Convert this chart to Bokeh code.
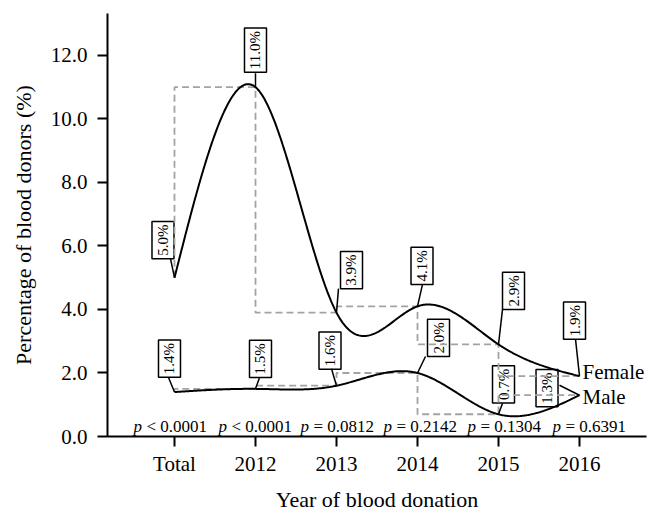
import numpy as np
from bokeh.plotting import figure
from bokeh.models import FixedTicker, Range1d, NumeralTickFormatter
from bokeh.core.properties import value
from bokeh.embed import file_html
from bokeh.resources import INLINE

# ---------------- data ----------------
categories = ["Total", "2012", "2013", "2014", "2015", "2016"]
female = [5.0, 11.0, 3.9, 4.1, 2.9, 1.9]
male = [1.4, 1.5, 1.6, 2.0, 0.7, 1.3]
p_values = ["< 0.0001", "< 0.0001", "= 0.0812", "= 0.2142", "= 0.1304", "= 0.6391"]
y_ticks = [0, 2, 4, 6, 8, 10, 12]
series_names = ["Female", "Male"]

# ---------------- layout / style ----------------
FONT = "Liberation Serif"
FW, FH = 539, 423
X0, X1 = -0.827, 5.827
Y0, Y1 = 0.0, 13.32
SX = FW / (X1 - X0)
SY = FH / (Y1 - Y0)

def px_x(d):
    return d / SX

def px_y(d):
    return -d / SY

# label box centre offsets (px, screen) from data point; leader end offsets
f_box_off = [(-11.5, -37.5), (0, -37), (15, -42.5), (4.5, -40.5), (15, -53.5), (-5, -55.5)]
m_box_off = [(-5, -33.5), (5, -30), (-6.5, -35), (21, -35), (5, -30), (-32.5, -7)]
f_lead_off = [(-4, -19), (0, -14), (2, -24), (5, -22), (4, -35), (-4, -37)]
m_lead_off = [(-6, -14.5), (4, -11), (-5, -17), (8, -16.5), (4, -11), (-20, -10)]
p_left_off = [-41, -37, -36, -34, -31, -27]


def natural_spline(y, n=80):
    y = np.asarray(y, float)
    k = len(y)
    A = np.zeros((k, k))
    b = np.zeros(k)
    A[0, 0] = A[-1, -1] = 1
    for i in range(1, k - 1):
        A[i, i - 1] = 1
        A[i, i] = 4
        A[i, i + 1] = 1
        b[i] = 6 * (y[i + 1] - 2 * y[i] + y[i - 1])
    M = np.linalg.solve(A, b)
    xs, ys = [], []
    for i in range(k - 1):
        t = np.linspace(0, 1, n, endpoint=(i == k - 2))
        s = 1 - t
        ys.extend(y[i] * s + y[i + 1] * t + (M[i] * (s ** 3 - s) + M[i + 1] * (t ** 3 - t)) / 6)
        xs.extend(i + t)
    return xs, ys


def step_path(y):
    xs, ys = [0], [y[0]]
    for i in range(1, len(y)):
        xs += [i - 1, i]
        ys += [y[i], y[i]]
    return xs, ys


p = figure(width=656, height=517, output_backend="svg", toolbar_location=None,
           x_range=Range1d(X0, X1), y_range=Range1d(Y0, Y1),
           min_border_left=107, min_border_right=10, min_border_top=13, min_border_bottom=81)
p.outline_line_color = None
p.xgrid.visible = False
p.ygrid.visible = False
p.background_fill_color = "white"
p.border_fill_color = "white"

xi = list(range(len(categories)))

# axes
for ax in (p.xaxis[0], p.yaxis[0]):
    ax.axis_line_width = 2
    ax.axis_line_color = "black"
    ax.major_tick_line_width = 2
    ax.major_tick_line_color = "black"
    ax.major_tick_out = 10
    ax.major_tick_in = 0
    ax.minor_tick_out = 0
    ax.minor_tick_in = 0
    ax.major_label_text_font = FONT
    ax.major_label_text_font_size = "21px"
    ax.major_label_text_color = "black"
    ax.axis_label_text_font = FONT
    ax.axis_label_text_font_size = "22px"
    ax.axis_label_text_font_style = "normal"
    ax.axis_label_text_color = "black"

p.xaxis.ticker = FixedTicker(ticks=xi)
p.xaxis.major_label_overrides = {i: c for i, c in enumerate(categories)}
p.xaxis.axis_label = "Year of blood donation"
p.xaxis.major_label_standoff = 5
p.xaxis.axis_label_standoff = 8

p.yaxis.ticker = FixedTicker(ticks=y_ticks)
p.yaxis.formatter = NumeralTickFormatter(format="0.0")
p.yaxis.axis_label = "Percentage of blood donors (%)"
p.yaxis.major_label_standoff = 10
p.yaxis.axis_label_standoff = 12

label_style = dict(angle=np.pi / 2, text_align="center", text_baseline="middle",
                   text_font=value(FONT), text_font_size="15px", text_color="black",
                   background_fill_color="white", border_line_color="black",
                   border_line_width=1.5, padding=3)

# label boxes
for vals, offs in ((female, f_box_off), (male, m_box_off)):
    bx = [i + px_x(o[0]) for i, o in zip(xi, offs)]
    by = [v + px_y(o[1]) for v, o in zip(vals, offs)]
    p.text(x=bx, y=by, text=[f"{v:.1f}%" for v in vals], **label_style)

# dashed step lines
for vals in (female, male):
    sx_, sy_ = step_path(vals)
    p.line(sx_, sy_, line_color="#a3a3a3", line_width=1.8, line_dash="7 4")

# smooth curves
for vals in (female, male):
    cx, cy = natural_spline(vals)
    p.line(cx, cy, line_color="black", line_width=2)

# leader lines
for vals, offs in ((female, f_lead_off), (male, m_lead_off)):
    x1 = [i + px_x(o[0]) for i, o in zip(xi, offs)]
    y1 = [v + px_y(o[1]) for v, o in zip(vals, offs)]
    p.segment(x0=xi, y0=vals, x1=x1, y1=y1, line_color="black", line_width=1.5)

# series names at the end of the curves
name_off = [(3, -4), (3, 2)]
for name, vals, o in zip(series_names, (female, male), name_off):
    p.text(x=[xi[-1] + px_x(o[0])], y=[vals[-1] + px_y(o[1])], text=[name],
           text_align="left", text_baseline="middle", text_font=value(FONT),
           text_font_size="21px", text_color="black")

# p-values
py = px_y(-10)
p.text(x=[i + px_x(o) for i, o in zip(xi, p_left_off)], y=[py] * len(xi), text=["p"] * len(xi),
       text_align="left", text_baseline="alphabetic", text_font=value(FONT),
       text_font_size="17px", text_font_style="italic", text_color="black")
p.text(x=[i + px_x(o + 13) for i, o in zip(xi, p_left_off)], y=[py] * len(xi), text=p_values,
       text_align="left", text_baseline="alphabetic", text_font=value(FONT),
       text_font_size="17px", text_color="black")

open("out.html", "w").write(file_html(p, INLINE))
